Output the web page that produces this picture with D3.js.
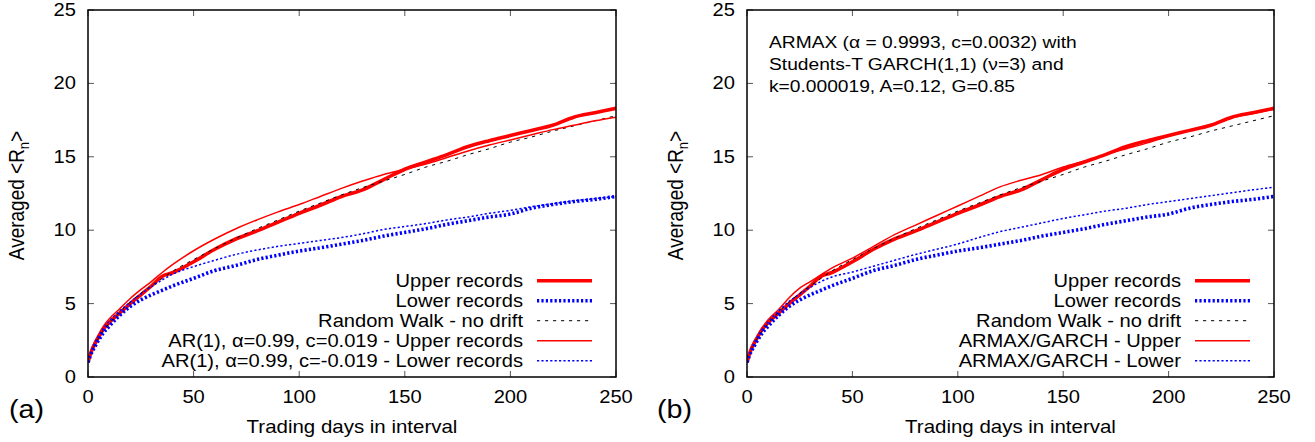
<!DOCTYPE html>
<html><head><meta charset="utf-8">
<script src="https://cdn.jsdelivr.net/npm/d3@7"></script>
<style>
html,body{margin:0;padding:0;background:#fff;}
svg{display:block;}
text{font-family:"Liberation Sans",Arial,Helvetica,sans-serif;fill:#000;}
</style></head>
<body>
<svg id="chart" width="1315" height="442"></svg>
<script>
// ---------- DATA ----------
const days = [0,1,2,3,5,7,10,15,20,25,30,35,40,50,60,70,80,90,100,110,120,130,140,150,160,170,180,190,200,210,220,230,240,250];
const upperRecords = [1.0,1.5,1.9,2.2,2.7,3.2,3.7,4.35,5.0,5.6,6.2,6.85,7.1,7.85,8.7,9.4,9.95,10.55,11.15,11.7,12.3,12.75,13.45,14.15,14.65,15.15,15.7,16.1,16.45,16.8,17.15,17.7,18.0,18.3];
const lowerRecords = [1.0,1.4,1.75,2.0,2.5,2.95,3.45,4.2,4.8,5.25,5.6,5.9,6.2,6.72,7.25,7.6,8.0,8.3,8.58,8.8,9.05,9.3,9.6,9.85,10.1,10.4,10.65,10.9,11.1,11.5,11.75,11.95,12.1,12.3];
const randomWalk = [1.0,1.5,1.85,2.15,2.65,3.1,3.65,4.4,5.1,5.7,6.2,6.7,7.2,8.0,8.75,9.45,10.1,10.7,11.3,11.85,12.4,12.9,13.35,13.8,14.3,14.7,15.15,15.55,16.0,16.35,16.75,17.1,17.45,17.8];
const arUpper = [1.0,1.6,2.0,2.35,2.9,3.4,3.95,4.65,5.35,5.95,6.5,7.1,7.65,8.6,9.4,10.1,10.7,11.25,11.75,12.3,12.85,13.35,13.8,14.15,14.5,14.95,15.4,15.8,16.15,16.5,16.85,17.15,17.45,17.7];
const arLower = [1.0,1.55,1.95,2.25,2.8,3.25,3.8,4.5,5.1,5.65,6.15,6.6,7.0,7.52,7.95,8.35,8.65,8.9,9.1,9.3,9.5,9.75,10.05,10.25,10.45,10.7,10.9,11.15,11.35,11.6,11.8,12.0,12.15,12.3];
const armaxUpper = [1.0,1.6,2.0,2.3,2.85,3.3,3.9,4.6,5.4,6.05,6.5,6.95,7.4,8.1,8.9,9.7,10.35,11.0,11.65,12.3,12.95,13.4,13.8,14.3,14.7,15.15,15.55,15.95,16.4,16.8,17.2,17.65,17.95,18.25];
const armaxLower = [1.0,1.5,1.9,2.2,2.75,3.2,3.75,4.5,5.15,5.65,6.1,6.5,6.8,7.15,7.55,7.95,8.35,8.7,9.06,9.5,9.9,10.2,10.5,10.8,11.05,11.3,11.5,11.75,11.95,12.15,12.35,12.55,12.75,12.92];

const xTicks = [0,50,100,150,200,250];
const yTicks = [0,5,10,15,20,25];
const xTitle = "Trading days in interval";
const panelLabels = ["(a)","(b)"];
const legendA = ["Upper records","Lower records","Random Walk - no drift","AR(1), α=0.99, c=0.019 - Upper records","AR(1), α=0.99, c=-0.019 - Lower records"];
const legendB = ["Upper records","Lower records","Random Walk - no drift","ARMAX/GARCH - Upper","ARMAX/GARCH - Lower"];
const annotationB = ["ARMAX (α = 0.9993, c=0.0032) with","Students-T GARCH(1,1) (ν=3) and","k=0.000019, A=0.12, G=0.85"];

// ---------- STYLES ----------
const SX = 1.15;
const FS = 17.5;
const styles = [
  {stroke:"#ff0000", width:3.6, dash:null},
  {stroke:"#0000ff", width:3.6, dash:"2.2,2.2"},
  {stroke:"#000000", width:1, dash:"3.2,4.8"},
  {stroke:"#ff0000", width:1.5, dash:null},
  {stroke:"#0000ff", width:1.5, dash:"2.2,2.2"}
];

const svg = d3.select("#chart");

function txt(g, x, y, s, anchor, size){
  return g.append("text")
    .attr("transform", `translate(${x},${y}) scale(${SX},1)`)
    .attr("text-anchor", anchor||"start")
    .attr("font-size", size||FS)
    .text(s);
}

function panel(cfg){
  const {left,right,top,bottom,series,legend,label,labelX,annotation} = cfg;
  const x = d3.scaleLinear().domain([0,250]).range([left,right]);
  const y = d3.scaleLinear().domain([0,25]).range([bottom,top]);
  const g = svg.append("g");

  // ticks (mirrored, inward)
  const tl = 6;
  const tk = g.append("g").attr("stroke","#555").attr("stroke-width",1);
  xTicks.forEach(v=>{
    tk.append("line").attr("x1",x(v)).attr("x2",x(v)).attr("y1",bottom).attr("y2",bottom-tl);
    tk.append("line").attr("x1",x(v)).attr("x2",x(v)).attr("y1",top).attr("y2",top+tl);
  });
  yTicks.forEach(v=>{
    tk.append("line").attr("x1",left).attr("x2",left+tl).attr("y1",y(v)).attr("y2",y(v));
    tk.append("line").attr("x1",right).attr("x2",right-tl).attr("y1",y(v)).attr("y2",y(v));
  });

  // tick labels
  xTicks.forEach(v=> txt(g, x(v), 403, String(v), "middle"));
  yTicks.forEach(v=> txt(g, left-12, y(v)+6, String(v), "end"));

  // axis titles
  txt(g, (left+right)/2, 433, xTitle, "middle", 17.8);
  const yt = g.append("text")
    .attr("transform", `translate(${left-64},${(top+bottom)/2+2}) rotate(-90) scale(1,${SX})`)
    .attr("text-anchor","middle").attr("font-size",19);
  yt.append("tspan").text("Averaged <R");
  yt.append("tspan").attr("font-size",13).attr("dy",4).text("n");
  yt.append("tspan").attr("dy",-4).text(">");

  // panel label
  txt(g, labelX, 418, label, "start", 25);

  // lines
  const line = d3.line().x((d,i)=>x(days[i])).y(d=>y(d)).curve(d3.curveMonotoneX);
  const clip = "clip"+label.replace(/\W/g,"");
  g.append("clipPath").attr("id",clip).append("rect")
    .attr("x",left).attr("y",top).attr("width",right-left).attr("height",bottom-top);
  const lg = g.append("g").attr("clip-path",`url(#${clip})`);
  series.forEach((s,i)=>{
    const st = styles[i];
    lg.append("path").datum(s).attr("d",line).attr("fill","none")
      .attr("stroke",st.stroke).attr("stroke-width",st.width)
      .attr("stroke-dasharray",st.dash).attr("stroke-linejoin","round");
  });

  // legend
  const textEnd = right - 93, s0 = right - 79, s1 = right - 24;
  legend.forEach((t,i)=>{
    const cy = 280.7 + 20*i;
    txt(g, textEnd, cy+6, t, "end");
    const st = styles[i];
    g.append("line").attr("x1",s0).attr("x2",s1).attr("y1",cy).attr("y2",cy)
      .attr("stroke",st.stroke).attr("stroke-width",st.width)
      .attr("stroke-dasharray",st.dash);
  });

  // annotation
  if(annotation){
    annotation.forEach((t,i)=> txt(g, left+22, 48 + 22*i, t, "start", 16.7));
  }

  // frame
  g.append("rect").attr("x",left).attr("y",top).attr("width",right-left).attr("height",bottom-top)
    .attr("fill","none").attr("stroke","#000").attr("stroke-width",1.5);
}

panel({left:88,right:616,top:10,bottom:377,
  series:[upperRecords,lowerRecords,randomWalk,arUpper,arLower],
  legend:legendA,label:panelLabels[0],labelX:9});
panel({left:747,right:1274,top:10,bottom:377,
  series:[upperRecords,lowerRecords,randomWalk,armaxUpper,armaxLower],
  legend:legendB,label:panelLabels[1],labelX:657,annotation:annotationB});
</script>
</body></html>
